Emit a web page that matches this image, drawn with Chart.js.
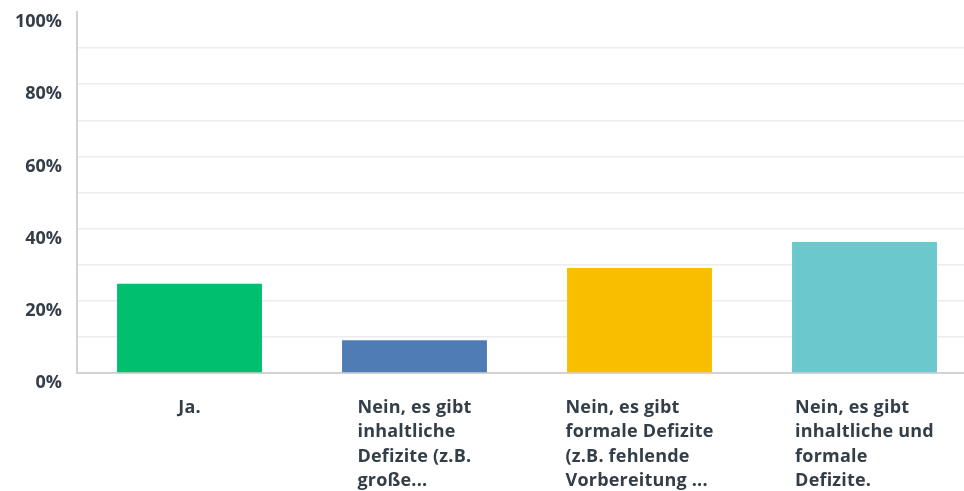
<!DOCTYPE html>
<html>
<head>
<meta charset="utf-8">
<script src="https://cdn.jsdelivr.net/npm/chart.js@4.4.1/dist/chart.umd.min.js"></script>
<style>
    html, body { margin: 0; padding: 0; background: #fff; overflow: hidden; }
    #wrap { position: relative; width: 980px; height: 491px; }
</style>
</head>
<body>
<div id="wrap"><canvas id="survey-chart"></canvas></div>
<script>
// /---------------Chart data----------------/
const categories = [
    ['Ja.'],
    ['Nein, es gibt', 'inhaltliche', 'Defizite (z.B.', 'große...'],
    ['Nein, es gibt', 'formale Defizite', '(z.B. fehlende', 'Vorbereitung ...'],
    ['Nein, es gibt', 'inhaltliche und', 'formale', 'Defizite.']
];
const percentages = [24.7, 9.1, 29.1, 36.3];
const barColors = ['#00bf6f', '#507cb6', '#f9be00', '#6bc8cd'];
const yTickLabels = ['0%', '20%', '40%', '60%', '80%', '100%'];

const textColor = '#333e48';
const labelFont = '700 18px "Open Sans"';

// /---------------Category labels: block centred, lines left aligned----------/
const categoryLabels = {
    id: 'categoryLabels',
    afterDraw(chart) {
        const ctx = chart.ctx;
        const xScale = chart.scales.x;
        ctx.save();
        ctx.font = labelFont;
        ctx.letterSpacing = '0.2px';
        ctx.fillStyle = textColor;
        ctx.textAlign = 'left';
        ctx.textBaseline = 'alphabetic';
        categories.forEach((lines, i) => {
            const center = xScale.getPixelForValue(i);
            let maxW = 0;
            lines.forEach(l => { maxW = Math.max(maxW, ctx.measureText(l).width); });
            const startX = center - maxW / 2;
            lines.forEach((l, j) => {
                ctx.fillText(l, startX, xScale.top + 40 + j * 24.3);
            });
        });
        ctx.restore();
    }
};

new Chart(document.querySelector('#survey-chart').getContext('2d'), {
    type: 'bar',
    data: {
        labels: categories.map(c => c.join(' ')),
        datasets: [{
            data: percentages,
            backgroundColor: barColors,
            borderWidth: 0,
            barPercentage: 0.644,
            categoryPercentage: 1
        }]
    },
    options: {
        responsive: true,
        maintainAspectRatio: false,
        animation: false,
        layout: {
            padding: { top: 12, right: 3, left: 0, bottom: 0 }
        },
        scales: {
            y: {
                min: 0,
                max: 100,
                afterFit(scale) {
                    scale.width = 77;
                    scale.paddingTop = 0;
                    scale.paddingBottom = 0;
                },
                border: { color: '#d2d2d2', width: 2 },
                grid: {
                    color: c => (c.tick && c.tick.value === 100) ? 'rgba(0,0,0,0)' : '#ececec',
                    lineWidth: 1.5,
                    drawTicks: false
                },
                ticks: {
                    stepSize: 10,
                    padding: 15,
                    labelOffset: 10,
                    color: textColor,
                    font: { family: '"Open Sans"', size: 18, weight: '700' },
                    callback: v => (v % 20 === 0 ? yTickLabels[v / 20] : '')
                }
            },
            x: {
                afterFit(scale) {
                    scale.height = 118;
                    scale.paddingLeft = 0;
                    scale.paddingRight = 0;
                },
                border: { color: '#d2d2d2', width: 2 },
                grid: { display: false },
                ticks: { display: false }
            }
        },
        plugins: {
            legend: { display: false },
            tooltip: { enabled: false }
        }
    },
    plugins: [categoryLabels]
});
</script>
</body>
</html>
